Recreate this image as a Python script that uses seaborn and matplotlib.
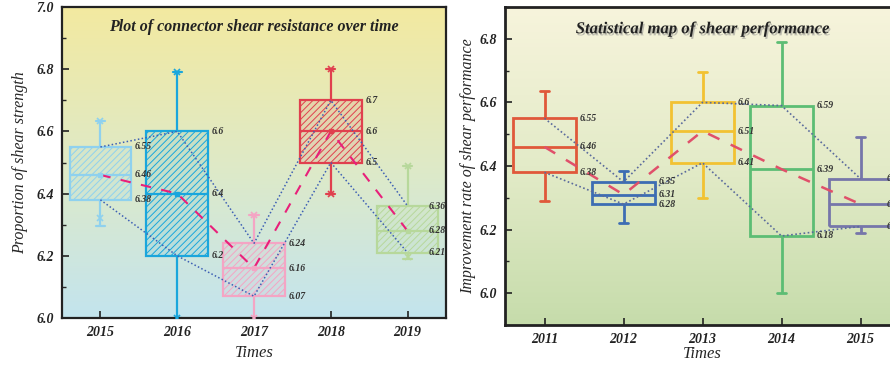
import matplotlib
matplotlib.use("Agg")
import matplotlib.pyplot as plt
import matplotlib.patheffects as pe
import numpy as np
import pandas as pd
import seaborn as sns
from matplotlib.colors import LinearSegmentedColormap, to_rgba
from matplotlib.ticker import MultipleLocator

# ---- left panel: five-number summaries per year (min, Q1, median, Q3, max)
left_years = ["2015", "2016", "2017", "2018", "2019"]
left_min = [6.295, 6.0, 6.0, 6.4, 6.19]
left_q1 = [6.38, 6.2, 6.07, 6.5, 6.21]
left_med = [6.46, 6.4, 6.16, 6.6, 6.28]
left_q3 = [6.55, 6.6, 6.24, 6.7, 6.36]
left_max = [6.635, 6.79, 6.33, 6.8, 6.49]
left_low_mark = [6.32, 6.0, 6.0, 6.4, 6.195]
left_colors = ["#8fd1ee", "#1aa6dc", "#f4a5c4", "#e0404e", "#b7d89b"]

# ---- right panel
right_years = ["2011", "2012", "2013", "2014", "2015"]
right_min = [6.29, 6.22, 6.30, 6.0, 6.19]
right_q1 = [6.38, 6.28, 6.41, 6.18, 6.21]
right_med = [6.46, 6.31, 6.51, 6.39, 6.28]
right_q3 = [6.55, 6.35, 6.6, 6.59, 6.36]
right_max = [6.635, 6.385, 6.695, 6.79, 6.49]
right_colors = ["#e0583a", "#3d6db3", "#f2c232", "#5cbd74", "#7676aa"]

sns.set_style("ticks")
plt.rcParams["font.family"] = ["Liberation Serif", "DejaVu Serif"]
plt.rcParams["font.weight"] = "bold"
plt.rcParams["font.style"] = "italic"
plt.rcParams["hatch.linewidth"] = 0.7

fig = plt.figure(figsize=(8.9, 3.66), dpi=100)
ax1 = fig.add_axes([62 / 890, 48 / 366, 384 / 890, 311 / 366])
ax2 = fig.add_axes([505 / 890, 41 / 366, 395 / 890, 318 / 366])


def gradient(ax, top, mid, bottom):
    cmap = LinearSegmentedColormap.from_list("bg", [bottom, mid, top])
    grad = np.linspace(0, 1, 256).reshape(-1, 1)
    ax.imshow(grad, extent=[0, 1, 0, 1], transform=ax.transAxes, origin="lower",
              aspect="auto", cmap=cmap, zorder=0)


def draw_boxes(ax, years, mins, q1s, meds, q3s, maxs, colors, lw, hatch):
    for i, year in enumerate(years):
        df = pd.DataFrame({"year": [year] * 5,
                           "value": [mins[i], q1s[i], meds[i], q3s[i], maxs[i]]})
        n = len(ax.patches)
        sns.boxplot(data=df, x="year", y="value", order=years, ax=ax,
                    color=colors[i], linecolor=colors[i], linewidth=lw,
                    width=0.8, whis=(0, 100), saturation=1, fliersize=0,
                    capwidths=0.12)
        box = ax.patches[n]
        if hatch:
            box.set_facecolor(to_rgba(colors[i], 0.12))
            box.set_hatch(hatch)
        else:
            box.set_facecolor("none")
        box.set_edgecolor(colors[i])


def annotate(ax, q1s, meds, q3s, size, last_shift=0.0):
    n = len(q1s)
    for i in range(n):
        x = i + 0.45 - (last_shift if i == n - 1 else 0)
        for v in (q3s[i], meds[i], q1s[i]):
            ax.text(x, v, f"{v:g}", fontsize=size, va="center", ha="left",
                    color="#333333", zorder=6)


def style(ax, ylim, ylabel, ticklen, ylabelpad):
    ax.set_ylim(*ylim)
    ax.set_xlim(-0.5, 4.5)
    ax.yaxis.set_major_locator(MultipleLocator(0.2))
    ax.yaxis.set_minor_locator(MultipleLocator(0.1))
    ax.yaxis.set_major_formatter(plt.FormatStrFormatter("%.1f"))
    ax.tick_params(direction="in", length=ticklen, width=1.2, labelsize=10,
                   colors="#222222", pad=6)
    ax.tick_params(axis="y", which="minor", direction="in", length=3, width=1)
    ax.set_xlabel("Times", fontsize=12, labelpad=4)
    ax.set_ylabel(ylabel, fontsize=11.5, labelpad=ylabelpad)
    for s in ax.spines.values():
        s.set_linewidth(1.6)
        s.set_color("#222222")


# ---- left
gradient(ax1, "#f3e9a0", "#dfeac6", "#c3e4ee")
draw_boxes(ax1, left_years, left_min, left_q1, left_med, left_q3, left_max,
           left_colors, 1.6, "/////")
pos = np.arange(len(left_years))
ax1.plot(pos, left_q3, ls=(0, (1, 1.5)), color="#3d5fb4", lw=1.1, zorder=5)
ax1.plot(pos, left_q1, ls=(0, (1, 1.5)), color="#3d5fb4", lw=1.1, zorder=5)
ax1.plot(pos, left_med, ls=(0, (5, 5)), color="#e8207a", lw=1.5, zorder=5)
for i, c in enumerate(left_colors):
    ax1.plot(i, left_max[i], marker="x", color=c, ms=5, mew=1.2, zorder=5)
    ax1.plot(i, left_low_mark[i], marker="x", color=c, ms=5, mew=1.2, zorder=5)
    ax1.plot(i, left_med[i], marker="s", color=c, ms=3, zorder=5)
annotate(ax1, left_q1, left_med, left_q3, 7, last_shift=0.18)
style(ax1, (6.0, 7.0), "Proportion of shear strength", 5, 6)
ax1.text(0.5, 0.935, "Plot of connector shear resistance over time",
         transform=ax1.transAxes, ha="center", va="center", fontsize=11.5,
         color="#222222", zorder=6)

# ---- right
gradient(ax2, "#f7f4dc", "#e3ebc8", "#c6dcab")
draw_boxes(ax2, right_years, right_min, right_q1, right_med, right_q3, right_max,
           right_colors, 2.0, None)
pos = np.arange(len(right_years))
ax2.plot(pos, right_q3, ls=(0, (1, 1.5)), color="#5a6a9c", lw=1.2, zorder=5)
ax2.plot(pos, right_q1, ls=(0, (1, 1.5)), color="#5a6a9c", lw=1.2, zorder=5)
ax2.plot(pos, right_med, ls=(0, (5, 5)), color="#e0506a", lw=1.8, zorder=5)
annotate(ax2, right_q1, right_med, right_q3, 7, last_shift=0.12)
style(ax2, (5.9, 6.9), "Improvement rate of shear performance", 5, 2)
ax2.xaxis.labelpad = 0
for s in ax2.spines.values():
    s.set_linewidth(2)
ax2.text(0.5, 0.93, "Statistical map of shear performance",
         transform=ax2.transAxes, ha="center", va="center", fontsize=12,
         color="#222222", zorder=6,
         path_effects=[pe.withSimplePatchShadow(offset=(1, -1.5), shadow_rgbFace="#888888",
                                                alpha=0.5)])

fig.savefig("out.png", dpi=100)
